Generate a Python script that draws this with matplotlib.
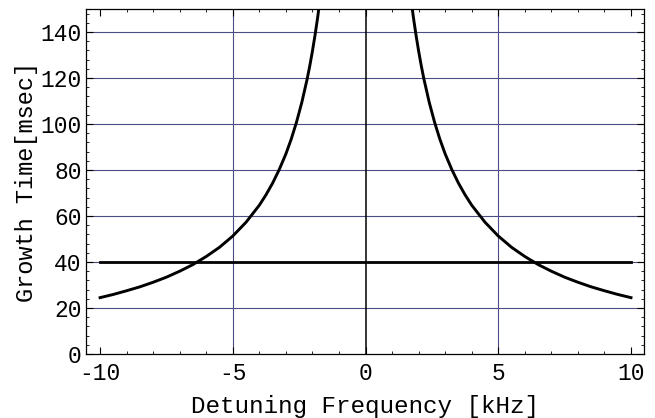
import matplotlib
matplotlib.use("Agg")
import matplotlib.pyplot as plt
from matplotlib.ticker import MultipleLocator

# Right branch of the growth-time curve (kHz, msec)
detuning_right = [1.65, 1.8, 1.9, 2.0, 2.1, 2.2, 2.4, 2.6, 2.8, 3.0, 3.25, 3.5,
                  3.75, 4.0, 4.5, 5.0, 5.5, 6.0, 6.5, 7.0, 7.5, 8.0, 8.5, 9.0,
                  9.5, 10.0]
growth_right = [160.1, 146.6, 138.8, 131.7, 125.3, 119.5, 109.4, 100.8, 93.4,
                87.0, 80.2, 74.3, 69.2, 64.7, 57.3, 51.3, 46.4, 42.4, 38.9,
                36.0, 33.4, 31.2, 29.2, 27.5, 25.9, 24.5]
# Left branch (same readings, mirrored about 0 kHz)
detuning_left = [-v for v in detuning_right]
growth_left = list(growth_right)

# Horizontal reference level
threshold_x = [-10, 10]
threshold_y = [40, 40]

xticks = [-10, -5, 0, 5, 10]
yticks = [0, 20, 40, 60, 80, 100, 120, 140]
xtick_labels = ['-10', '-5', '0', '5', '10']

font = "Liberation Mono"
plt.rcParams['font.family'] = [font, 'DejaVu Sans']

fig = plt.figure(figsize=(6.55, 4.18), dpi=100)
ax = fig.add_axes([86/655, 1-354/418, (644-86)/655, (354-9)/418])

grid_c = '#4d4d85'
for xv in xticks:
    if xv not in (-10, 10, 0):
        ax.axvline(xv, color=grid_c, lw=0.8, zorder=1)
for yv in yticks:
    if yv != 0:
        ax.axhline(yv, color=grid_c, lw=0.8, zorder=1)
ax.axvline(0, color='black', lw=1.1, zorder=2)

ax.plot(threshold_x, threshold_y, color='black', lw=2.0, zorder=3)
ax.plot(detuning_right, growth_right, color='black', lw=2.1, zorder=4)
ax.plot(detuning_left, growth_left, color='black', lw=2.1, zorder=4)

ax.set_xlim(-10.53, 10.49)
ax.set_ylim(0, 150)
ax.set_xticks(xticks)
ax.set_yticks(yticks)
ax.set_xticklabels(xtick_labels)
ax.xaxis.set_minor_locator(MultipleLocator(1))
ax.yaxis.set_minor_locator(MultipleLocator(4))
ax.tick_params(which='both', direction='in', top=True, right=True, color='black')
ax.tick_params(which='major', length=5, width=0.8, labelsize=16.5)
ax.tick_params(which='minor', length=2.5, width=0.6)
ax.tick_params(axis='x', which='major', pad=6)
ax.tick_params(axis='y', which='major', pad=3)
for s in ax.spines.values():
    s.set_linewidth(0.9)
    s.set_color('black')

ax.set_xlabel('Detuning Frequency [kHz]', fontsize=17.5)
ax.xaxis.set_label_coords(0.5, -0.118)
ax.set_ylabel('Growth Time[msec]', fontsize=17, labelpad=2)

fig.savefig('out.png', dpi=100)
